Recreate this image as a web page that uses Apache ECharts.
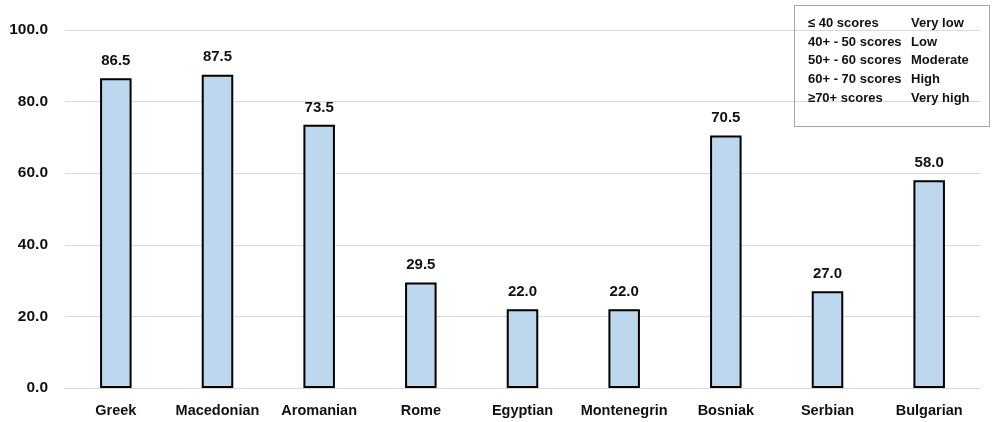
<!DOCTYPE html>
<html><head><meta charset="utf-8">
<script src="https://cdn.jsdelivr.net/npm/echarts@6/dist/echarts.min.js"></script>
<style>html,body{margin:0;padding:0;background:#fff}#c{width:992px;height:422px}</style>
</head><body><div id="c"></div>
<script>
var categories = ['Greek','Macedonian','Aromanian','Rome','Egyptian','Montenegrin','Bosniak','Serbian','Bulgarian'];
var values = [86.5, 87.5, 73.5, 29.5, 22.0, 22.0, 70.5, 27.0, 58.0];
var legendRanges = ['≤ 40 scores','40+ - 50 scores','50+ - 60 scores','60+ - 70 scores','≥70+ scores'];
var legendLevels = ['Very low','Low','Moderate','High','Very high'];

var chart = echarts.init(document.getElementById('c'));
var font = "'Liberation Sans', Arial, sans-serif";
var graphics = [{
  type: 'rect', left: 794, top: 5,
  shape: {width: 195, height: 121},
  style: {fill: 'rgba(255,255,255,0)', stroke: '#a6a6a6', lineWidth: 1}, z: 10
}];
for (var i = 0; i < legendRanges.length; i++) {
  graphics.push({type: 'text', left: 808, top: 17 + i * 18.7, z: 11,
    style: {text: legendRanges[i], font: 'bold 13px ' + font, fill: '#111'}});
  graphics.push({type: 'text', left: 911, top: 17 + i * 18.7, z: 11,
    style: {text: legendLevels[i], font: 'bold 13px ' + font, fill: '#111'}});
}
chart.setOption({
  animation: false,
  grid: {left: 65, right: 12, top: 30, bottom: 34},
  xAxis: {
    type: 'category', data: categories,
    axisLine: {lineStyle: {color: '#d9d9d9', width: 1}},
    axisTick: {show: false},
    axisLabel: {interval: 0, color: '#111', fontWeight: 'bold', fontSize: 14.5, fontFamily: font, margin: 15}
  },
  yAxis: {
    type: 'value', min: 0, max: 100, interval: 20,
    axisLine: {show: false}, axisTick: {show: false},
    splitLine: {lineStyle: {color: '#d9d9d9', width: 1}},
    axisLabel: {color: '#111', fontWeight: 'bold', fontSize: 15.5, fontFamily: font, margin: 17,
      formatter: function(v){ return v.toFixed(1); }}
  },
  series: [{
    type: 'bar', data: values, barWidth: '31%',
    itemStyle: {color: '#BDD7EE', borderColor: '#000', borderWidth: 2},
    label: {show: true, position: 'top', distance: 10, color: '#111', fontWeight: 'bold', fontSize: 15, fontFamily: font,
      formatter: function(p){ return p.value.toFixed(1); }}
  }],
  graphic: graphics
});
</script></body></html>
